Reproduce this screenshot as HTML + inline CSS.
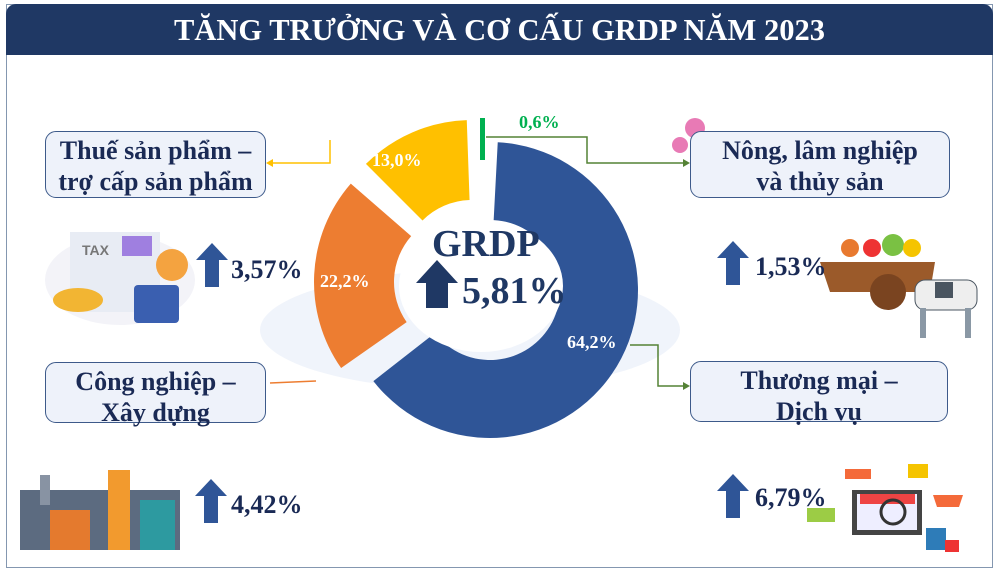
<!DOCTYPE html>
<html><head><meta charset="utf-8"><style>
body{margin:0;width:1000px;height:573px;background:#fff;font-family:"Liberation Serif",serif;position:relative;overflow:hidden}
.frame{position:absolute;left:6px;top:4px;width:985px;height:562px;border:1.5px solid #8497b0}
.hdr{position:absolute;left:6px;top:4px;width:987px;height:51px;background:#1f3864;border-radius:10px 10px 0 0;color:#fff;font-weight:bold;font-size:30.5px;text-align:center;line-height:53px}
.box{position:absolute;background:#eef2fa;border:1.5px solid #3d5a8a;border-radius:11px;color:#1a2a55;font-weight:bold;font-size:26px;text-align:center;line-height:31px;box-sizing:border-box;padding-top:3px}
.pct{position:absolute;color:#1a2a55;font-weight:bold;font-size:26px}
.arr{position:absolute;width:32px;height:44px}
</style></head><body>
<div class="frame"></div>
<div class="hdr">TĂNG TRƯỞNG VÀ CƠ CẤU GRDP NĂM 2023</div>
<svg width="1000" height="573" style="position:absolute;left:0;top:0">
<ellipse cx="470" cy="330" rx="210" ry="60" fill="#e6ecf8" opacity="0.6"/>
<ellipse cx="120" cy="280" rx="75" ry="45" fill="#f3f3f8"/>
<g id="d"></g>
<ellipse cx="481" cy="286" rx="82" ry="66" fill="#fff"/>
<polyline points="330,140 330,163 270,163" fill="none" stroke="#ffc000" stroke-width="1.5"/>
<polygon points="266,163 273,159 273,167" fill="#ffc000"/>
<polyline points="316,381 270,383" fill="none" stroke="#ed7d31" stroke-width="1.5"/>
<polyline points="486,137 587,137 587,163 686,163" fill="none" stroke="#548235" stroke-width="1.5"/>
<polygon points="690,163 683,159 683,167" fill="#548235"/>
<polyline points="630,345 658,345 658,386 686,386" fill="none" stroke="#548235" stroke-width="1.5"/>
<polygon points="690,386 683,382 683,390" fill="#548235"/>
<text x="372" y="166" fill="#fff" font-size="18" font-weight="bold" font-family="Liberation Serif">13,0%</text>
<text x="320" y="287" fill="#fff" font-size="18" font-weight="bold" font-family="Liberation Serif">22,2%</text>
<text x="567" y="348" fill="#fff" font-size="18" font-weight="bold" font-family="Liberation Serif">64,2%</text>
<text x="519" y="128" fill="#00b050" font-size="18" font-weight="bold" font-family="Liberation Serif">0,6%</text>
<text x="432" y="256" fill="#1f3864" font-size="38" font-weight="bold" font-family="Liberation Serif">GRDP</text>
<text x="462" y="303" fill="#1f3864" font-size="38" font-weight="bold" font-family="Liberation Serif">5,81%</text>
<polygon points="437,260 458,283 448,283 448,308 426,308 426,283 416,283" fill="#1f3864"/>
<rect x="70" y="232" width="90" height="80" fill="#e8ecf4"/><text x="82" y="255" font-size="14" fill="#777" font-family="Liberation Sans" font-weight="bold">TAX</text>
<rect x="122" y="236" width="30" height="20" fill="#9f7fe0"/><rect x="134" y="285" width="45" height="38" rx="4" fill="#3a5fb0"/>
<ellipse cx="78" cy="300" rx="25" ry="12" fill="#f2b533"/><circle cx="172" cy="265" r="16" fill="#f4a340"/>
<rect x="20" y="490" width="160" height="60" fill="#5c6b80"/><rect x="108" y="470" width="22" height="80" fill="#f29a2e"/><rect x="40" y="475" width="10" height="30" fill="#8893a3"/><rect x="50" y="510" width="40" height="40" fill="#e47a2e"/><rect x="140" y="500" width="35" height="50" fill="#2d9aa0"/>
<polygon points="820,262 935,262 930,292 830,292" fill="#9b5a2a"/><circle cx="888" cy="292" r="18" fill="#7a4420"/>
<circle cx="850" cy="248" r="9" fill="#e8792f"/><circle cx="872" cy="248" r="9" fill="#e33"/><circle cx="893" cy="245" r="11" fill="#7ac143"/><circle cx="912" cy="248" r="9" fill="#f5c400"/>
<rect x="915" y="280" width="62" height="30" rx="10" fill="#eee" stroke="#4a5560"/><rect x="935" y="282" width="18" height="16" fill="#4a5560"/><rect x="920" y="308" width="6" height="30" fill="#8a98a5"/><rect x="965" y="308" width="6" height="30" fill="#8a98a5"/>
<rect x="700" y="168" width="16" height="12" fill="#d66"/><circle cx="695" cy="128" r="10" fill="#e87ab5"/><circle cx="680" cy="145" r="8" fill="#e87ab5"/>
<rect x="852" y="490" width="70" height="45" fill="#444"/><rect x="857" y="494" width="60" height="36" fill="#eef"/><rect x="860" y="494" width="55" height="10" fill="#e44"/><circle cx="893" cy="512" r="12" fill="none" stroke="#333" stroke-width="3"/>
<rect x="845" y="469" width="26" height="10" fill="#f46a3a"/><rect x="908" y="464" width="20" height="14" fill="#f5c400"/><path d="M933 495 h30 l-4 12 h-22z" fill="#f46a3a"/><rect x="926" y="528" width="20" height="22" fill="#2e7cb8"/><rect x="945" y="540" width="14" height="12" fill="#e33"/><rect x="807" y="508" width="28" height="14" fill="#9ccc45"/>
</svg>
<div class="box" style="left:45px;top:131px;width:221px;height:67px">Thuế sản phẩm –<br>trợ cấp sản phẩm</div>
<div class="box" style="left:45px;top:362px;width:221px;height:61px">Công nghiệp –<br>Xây dựng</div>
<div class="box" style="left:690px;top:131px;width:260px;height:67px">Nông, lâm nghiệp<br>và thủy sản</div>
<div class="box" style="left:690px;top:361px;width:258px;height:61px">Thương mại –<br>Dịch vụ</div>
<svg class="arr" style="left:196px;top:243px" viewBox="0 0 32 44"><polygon points="16,0 32,17 23,17 23,44 9,44 9,17 0,17" fill="#2f5597"/></svg>
<svg class="arr" style="left:195px;top:479px" viewBox="0 0 32 44"><polygon points="16,0 32,17 23,17 23,44 9,44 9,17 0,17" fill="#2f5597"/></svg>
<svg class="arr" style="left:717px;top:241px" viewBox="0 0 32 44"><polygon points="16,0 32,17 23,17 23,44 9,44 9,17 0,17" fill="#2f5597"/></svg>
<svg class="arr" style="left:717px;top:474px" viewBox="0 0 32 44"><polygon points="16,0 32,17 23,17 23,44 9,44 9,17 0,17" fill="#2f5597"/></svg>
<div class="pct" style="left:231px;top:255px">3,57%</div>
<div class="pct" style="left:231px;top:490px">4,42%</div>
<div class="pct" style="left:755px;top:252px">1,53%</div>
<div class="pct" style="left:755px;top:483px">6,79%</div>
<script>
function seg(cx,cy,r,ri,a0,a1,fill){
 function p(R,a){a=a*Math.PI/180;return [cx+R*Math.sin(a),cy-R*Math.cos(a)];}
 var A=p(r,a0),B=p(r,a1),C=p(ri,a1),D=p(ri,a0),lg=(a1-a0)>180?1:0;
 return '<path d="M'+A+' A'+r+','+r+' 0 '+lg+' 1 '+B+' L'+C+' A'+ri+','+ri+' 0 '+lg+' 0 '+D+'Z" fill="'+fill+'"/>';
}
document.getElementById('d').innerHTML=
 seg(490,290,148,70,3,232,'#2f5597')+
 seg(464,282,150,70,235,311,'#ed7d31')+
 seg(472,270,150,70,315,358,'#ffc000')+
 '<rect x="480" y="118" width="5" height="42" fill="#00b050"/>';
</script>
</body></html>
